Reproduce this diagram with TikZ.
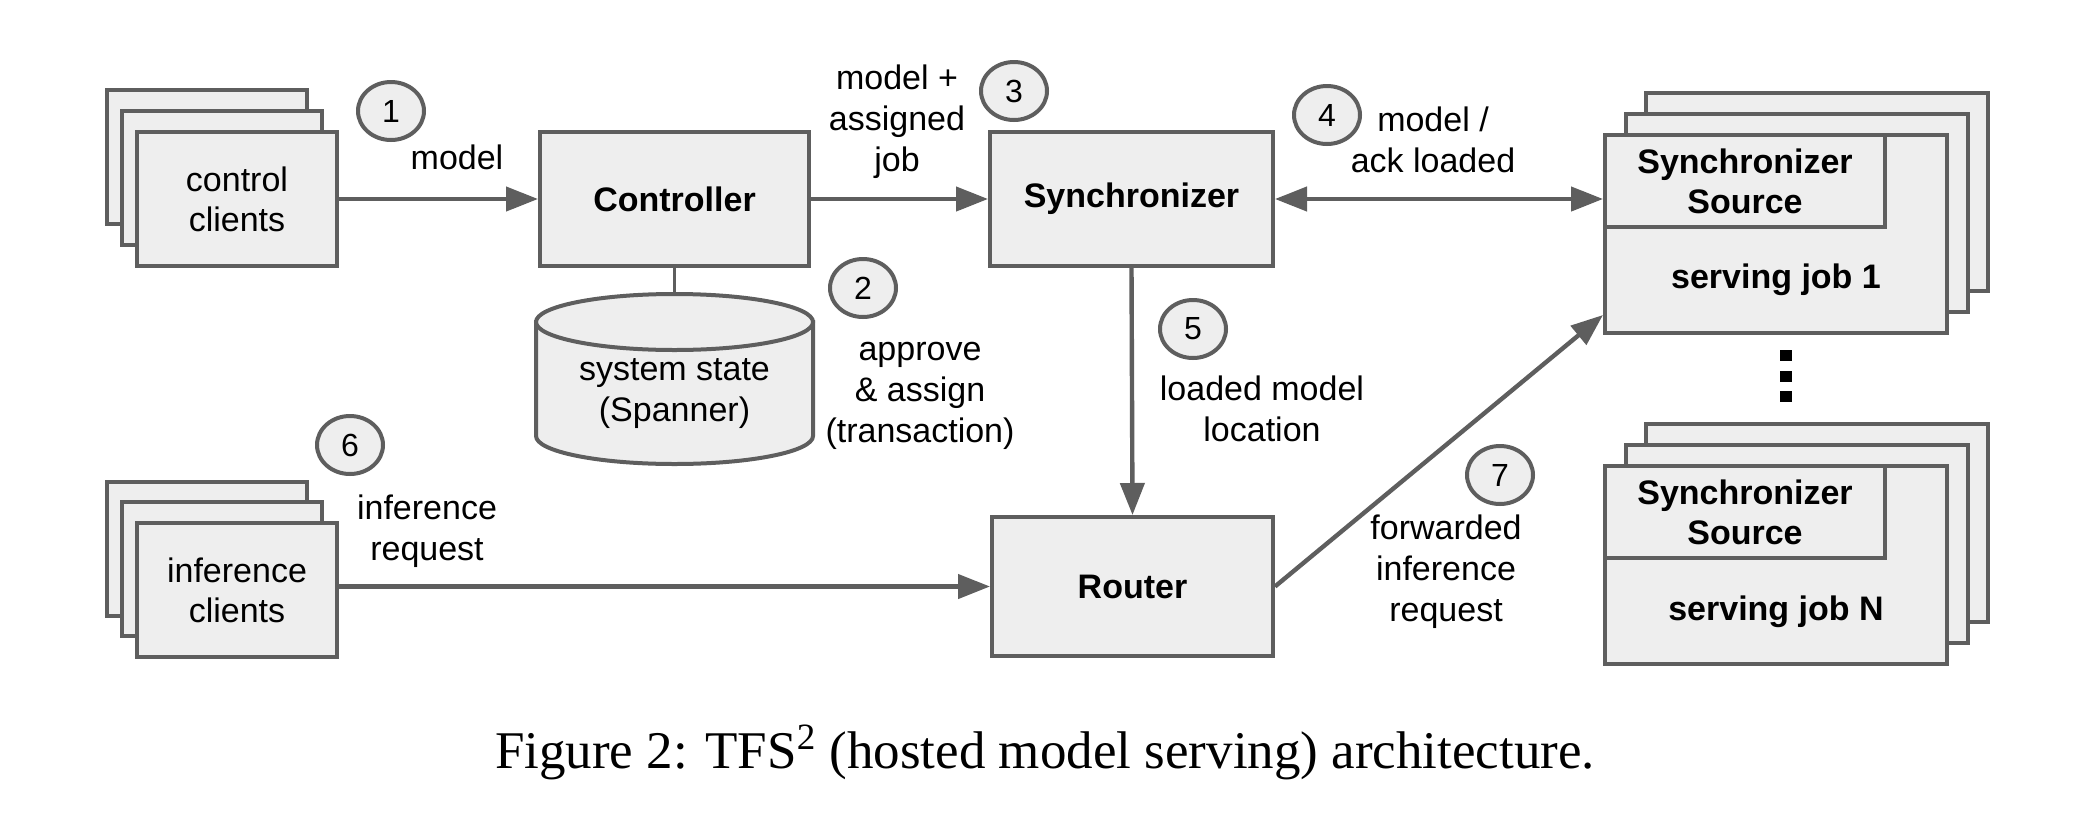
\documentclass[tikz,border=0pt]{standalone}
\usepackage{fontspec}
\setmainfont{Liberation Sans}
\newfontfamily\capfont{Liberation Serif}
\usetikzlibrary{arrows.meta,shapes.geometric,calc}
\definecolor{lc}{HTML}{5E5E5E}
\definecolor{fc}{HTML}{EEEEEE}
\tikzset{
  box/.style={draw=lc,fill=fc,line width=2pt,inner sep=0pt,rectangle},
  cbox/.style={box,minimum width=100pt,minimum height=67pt,align=center,font=\fontsize{17}{20}\selectfont},
  jbox/.style={box,minimum width=171pt,minimum height=99pt},
  mbox/.style={box,minimum height=67pt,align=center,font=\bfseries\fontsize{17}{20}\selectfont},
  num/.style={ellipse,draw=lc,fill=fc,line width=2pt,minimum width=33pt,minimum height=29pt,inner sep=0pt,font=\fontsize{16}{19}\selectfont},
  lbl/.style={align=center,inner sep=0pt,font=\fontsize{17}{20.5}\selectfont},
  arr/.style={draw=lc,line width=2.2pt,-{Triangle[length=16pt,width=12pt]}},
  darr/.style={draw=lc,line width=2.2pt,{Triangle[length=16pt,width=12pt]}-{Triangle[length=16pt,width=12pt]}},
  dotsq/.style={fill=black,draw=none,minimum width=6pt,minimum height=5.5pt,inner sep=0pt,rectangle}
}
\begin{document}
\begin{tikzpicture}[x=0.5pt,y=-0.5pt]
\useasboundingbox (0,0) rectangle (2078,814);
% control clients stack
\node[cbox] (cc3) at (206.5,157) {};
\node[cbox] (cc2) at (221.5,178) {};
\node[cbox] (cc) at (237,199) {control\\clients};
% inference clients stack
\node[cbox] (ic3) at (206.5,548.5) {};
\node[cbox] (ic2) at (221.5,569) {};
\node[cbox] (ic) at (237,590) {inference\\clients};
% main boxes
\node[mbox,minimum width=134.5pt] (ctrl) at (674.5,199) {Controller};
\node[mbox,minimum width=141.5pt] (sync) at (1131.5,199) {Synchronizer};
\node[mbox,minimum width=140.5pt,minimum height=69.5pt] (router) at (1132.5,586.5) {Router};
% cylinder
\filldraw[draw=lc,fill=fc,line width=2pt] (536,322) -- (536,436) arc[start angle=180,end angle=0,x radius=138.5,y radius=28] -- (813,322) -- cycle;
\filldraw[draw=lc,fill=fc,line width=2pt] (674.5,322) ellipse [x radius=138.5,y radius=28];
\coordinate (dbtop) at (674.5,294);
\node[lbl] (db) at (674.5,394) {system state\\(Spanner)};
\draw[draw=lc,line width=1.6pt] (ctrl.south) -- (dbtop);
% serving job 1 stack
\node[jbox] (j1c) at (1817,192) {};
\node[jbox] (j1b) at (1796.5,213) {};
\node[jbox] (j1) at (1776,234) {};
\node[box,minimum width=140pt,minimum height=46pt,align=center,font=\bfseries\fontsize{17}{20}\selectfont] (s1) at (1745,181) {Synchronizer\\Source};
\node[lbl,font=\bfseries\fontsize{17}{20}\selectfont] (sj1) at (1776,280) {serving job 1};
% serving job N stack
\node[jbox] (jnc) at (1817,523) {};
\node[jbox] (jnb) at (1796.5,544) {};
\node[jbox] (jn) at (1776,565) {};
\node[box,minimum width=140pt,minimum height=46pt,align=center,font=\bfseries\fontsize{17}{20}\selectfont] (sn) at (1745,512) {Synchronizer\\Source};
\node[lbl,font=\bfseries\fontsize{17}{20}\selectfont] (sjn) at (1776,612) {serving job N};
% dots
\node[dotsq] (d1) at (1786,355) {};
\node[dotsq] (d2) at (1786,376) {};
\node[dotsq] (d3) at (1786,396) {};
% connectors
\draw[arr] (cc.east) -- (ctrl.west);
\draw[arr] (ctrl.east) -- (sync.west);
\draw[darr] (sync.east) -- (sync.east -| j1.west);
\draw[arr] (sync.south) -- (router.north);
\draw[arr] (ic.east |- router.west) -- (router.west);
\coordinate (j1in) at ($(j1.south west)+(0,-20)$);
\draw[arr] (router.east) -- (j1in);
% numbered circles
\node[num] (n1) at (391,111) {1};
\node[num] (n2) at (863,288) {2};
\node[num] (n3) at (1014,91) {3};
\node[num] (n4) at (1327,115) {4};
\node[num] (n5) at (1193,329) {5};
\node[num] (n6) at (350,445) {6};
\node[num] (n7) at (1500,475) {7};
% labels
\node[lbl] (l1) at (457,157) {model};
\node[lbl] (l3) at (897,122) {model +\\assigned\\job};
\node[lbl] (l2) at (920,396) {approve\\\& assign\\(transaction)};
\node[lbl] (l4) at (1433,140) {model /\\ack loaded};
\node[lbl] (l5) at (1262,409) {loaded model\\location};
\node[lbl] (l6) at (427,531) {inference\\request};
\node[lbl] (l7) at (1446,572) {forwarded\\inference\\request};
% caption
\node[anchor=base,inner sep=0pt,font=\capfont\fontsize{26.5}{30}\selectfont] (cap) at (1045,768) {Figure 2: TFS\textsuperscript{2} (hosted model serving) architecture.};
\end{tikzpicture}
\end{document}
